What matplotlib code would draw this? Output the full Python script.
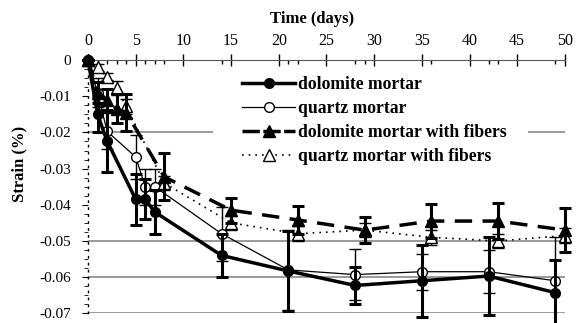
import matplotlib
matplotlib.use("Agg")
import matplotlib.pyplot as plt
from matplotlib.lines import Line2D
import numpy as np

plt.rcParams['font.family'] = ['Liberation Serif', 'DejaVu Serif']

days_a = [0, 1, 2, 5, 6, 7, 14, 21, 28, 35, 42, 49]
days_b = [0, 1, 2, 3, 4, 8, 15, 22, 29, 36, 43, 50]

dolo = [0, -0.015, -0.0224, -0.0385, -0.0385, -0.042, -0.054, -0.0583, -0.0623, -0.061, -0.0597, -0.0643]
dolo_err = [0, 0.005, 0.0086, 0.007, 0.0055, 0.006, 0.006, 0.011, 0.005, 0.010, 0.0107, 0.009]

quartz = [0, -0.009, -0.0197, -0.0268, -0.035, -0.035, -0.048, -0.058, -0.0593, -0.0585, -0.0585, -0.061]
quartz_err = [0, 0.004, 0.005, 0.006, 0.005, 0.005, 0.0075, 0.011, 0.007, 0.005, 0.006, 0.012]

dolo_f = [0, -0.009, -0.011, -0.0135, -0.0145, -0.0323, -0.0415, -0.0442, -0.047, -0.0445, -0.0445, -0.047]
dolo_f_err = [0, 0.003, 0.003, 0.004, 0.005, 0.0065, 0.0035, 0.004, 0.0037, 0.0047, 0.005, 0.006]

quartz_f = [0, -0.002, -0.0046, -0.0077, -0.0128, -0.034, -0.045, -0.048, -0.047, -0.049, -0.050, -0.0485]
quartz_f_err = [0, 0.001, 0.001, 0.002, 0.002, 0.002, 0.002, 0.002, 0.002, 0.002, 0.002, 0.002]

labels = ["dolomite mortar", "quartz mortar", "dolomite mortar with fibers", "quartz mortar with fibers"]

fig = plt.figure(figsize=(5.83, 3.23), dpi=100)
ax = fig.add_axes([0.151, 0.03, 0.818, 0.784])

# gridlines (the -0.02 one is interrupted behind the legend)
for y in [-0.05, -0.06, -0.07]:
    ax.axhline(y, color='#888888', lw=1.2, zorder=0)
ax.hlines(-0.02, 0, 13.1, color='#888888', lw=1.2, zorder=0)
ax.hlines(-0.02, 46.1, 50, color='#888888', lw=1.2, zorder=0)

ax.errorbar(days_a, dolo, yerr=dolo_err, color='black', lw=2.5, marker='o', ms=7,
            mfc='black', elinewidth=2.2, capsize=4.5, capthick=2.2, zorder=4, clip_on=False)
ax.errorbar(days_a, quartz, yerr=quartz_err, color='black', lw=0.9, marker='o', ms=7,
            mfc='white', mew=1.0, elinewidth=1.0, capsize=4, capthick=1.0, zorder=3, clip_on=False)
ax.errorbar(days_b, dolo_f, yerr=dolo_f_err, color='black', lw=2.5, ls=(0, (5, 3)), marker='^', ms=8,
            mfc='black', elinewidth=2.2, capsize=4.5, capthick=2.2, zorder=4, clip_on=False)
ax.errorbar(days_b, quartz_f, yerr=quartz_f_err, color='black', lw=1.2, ls=(0, (1, 3)), marker='^', ms=8,
            mfc='white', mew=1.0, elinewidth=1.0, capsize=4, capthick=1.0, zorder=3, clip_on=False)

ax.set_xlim(0, 50)
ax.set_ylim(-0.07, 0)

ax.xaxis.tick_top()
ax.xaxis.set_label_position('top')
ax.set_xticks(np.arange(0, 51, 5))
minor = sorted(set(d for d in days_a + days_b if d % 5 != 0))
ax.set_xticks(minor, minor=True)
ax.tick_params(axis='x', which='major', direction='inout', length=8, width=1, labelsize=11.5, pad=4, colors='black')
ax.tick_params(axis='x', which='minor', direction='in', length=3, width=1)
ax.set_yticks(np.arange(-0.07, 0.001, 0.01))
ax.set_yticklabels(['-0.07', '-0.06', '-0.05', '-0.04', '-0.03', '-0.02', '-0.01', '0'])
ax.set_yticks(np.arange(-0.07, 0.0001, 0.0025), minor=True)
ax.tick_params(axis='y', which='major', direction='out', length=4, labelsize=11, pad=8)
ax.tick_params(axis='y', which='minor', direction='out', length=3)

for s in ['bottom', 'right']:
    ax.spines[s].set_visible(False)
ax.spines['top'].set_color('#555555')
ax.spines['left'].set_linestyle((0, (1, 4)))
ax.spines['left'].set_linewidth(1)

ax.set_xlabel('Time (days)', fontsize=12, fontweight='bold')
ax.xaxis.set_label_coords(0.47, 1.147)
ax.set_ylabel('Strain (%)', fontsize=12, fontweight='bold')
ax.yaxis.set_label_coords(-0.127, 0.59)

handles = [
    Line2D([], [], color='black', lw=2.5, marker='o', ms=7, mfc='black'),
    Line2D([], [], color='black', lw=0.9, marker='o', ms=7, mfc='white', mew=1.0),
    Line2D([], [], color='black', lw=2.5, ls=(0, (5, 1)), marker='^', ms=8, mfc='black'),
    Line2D([], [], color='black', lw=1.2, ls=(0, (1, 3)), marker='^', ms=8, mfc='white', mew=1.0),
]
leg = ax.legend(handles, labels, loc='upper left', bbox_to_anchor=(0.323, 0.937), frameon=False,
                prop={'weight': 'bold', 'size': 12.7}, borderpad=0, borderaxespad=0,
                handlelength=3.0, handletextpad=0.15, labelspacing=0.4)
leg.set_zorder(6)

fig.savefig('out.png', dpi=100)
